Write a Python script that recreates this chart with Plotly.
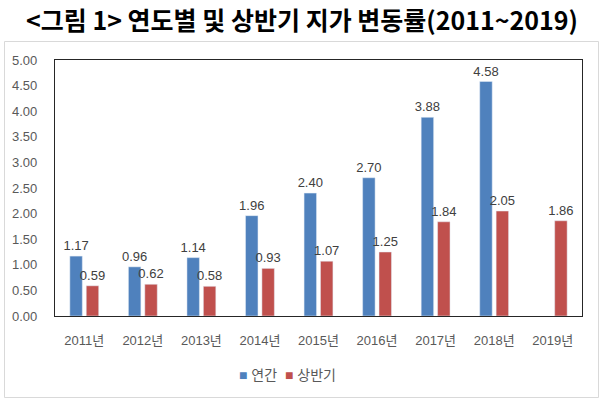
import plotly.graph_objects as go

years = ["2011년", "2012년", "2013년", "2014년", "2015년", "2016년", "2017년", "2018년", "2019년"]
annual = [1.17, 0.96, 1.14, 1.96, 2.40, 2.70, 3.88, 4.58, None]
half = [0.59, 0.62, 0.58, 0.93, 1.07, 1.25, 1.84, 2.05, 1.86]
yticks = [0, 0.5, 1, 1.5, 2, 2.5, 3, 3.5, 4, 4.5, 5]
series_names = ["연간", "상반기"]
colors = ["#4F81BD", "#C0504D"]

FONT = "Liberation Sans, Arial, Noto Sans CJK KR"
W, H = 604, 403
L, R, T, B = 55, 22, 60, 87
pw, ph = W - L - R, H - T - B

fig = go.Figure()
for name, vals, col in zip(series_names, [annual, half], colors):
    fig.add_bar(x=years, y=vals, name=name, marker_color=col,
                texttemplate="%{y:.2f}", textposition="outside", constraintext="none",
                textfont=dict(size=13, color="#404040", family=FONT), cliponaxis=False)

def px2x(px):
    return (px - L) / pw

def px2y(py):
    return (H - B - py) / ph

fig.add_shape(type="rect", xref="paper", yref="paper",
              x0=px2x(4.5), x1=px2x(598.5), y0=px2y(397.5), y1=px2y(41.5),
              line=dict(color="#D9D9D9", width=1), layer="below")

legend_text = "  ".join(
    f"<span style='color:{c}'>■</span> {n}" for n, c in zip(series_names, colors)
)
fig.add_annotation(text=legend_text, xref="paper", yref="paper",
                   x=px2x(287), y=px2y(375), xanchor="center", yanchor="middle",
                   showarrow=False, font=dict(size=14, color="#595959", family=FONT))

fig.update_layout(
    width=W, height=H,
    margin=dict(l=L, r=R, t=T, b=B),
    paper_bgcolor="white", plot_bgcolor="white",
    barmode="group", bargap=0.44, bargroupgap=0.24,
    showlegend=False,
    title=dict(text="<b>&lt;그림 1&gt; 연도별 및 상반기 지가 변동률(2011~2019)</b>",
               x=0.5, xref="container", xanchor="center", y=1 - 21 / H, yref="container",
               yanchor="middle",
               font=dict(size=25, color="black", family="Noto Sans CJK KR")),
    xaxis=dict(showgrid=False, showline=True, linecolor="#262626", linewidth=1.3, mirror=True,
               ticks="", tickfont=dict(size=13, color="#595959", family=FONT),
               ticklabelstandoff=12),
    yaxis=dict(range=[0, 5], tickvals=yticks, tickformat=".2f", showgrid=False,
               showline=True, linecolor="#262626", linewidth=1.3, mirror=True,
               ticks="", tickfont=dict(size=13, color="#595959", family=FONT),
               ticklabelstandoff=14, zeroline=False),
)

fig.write_html("out.html")
